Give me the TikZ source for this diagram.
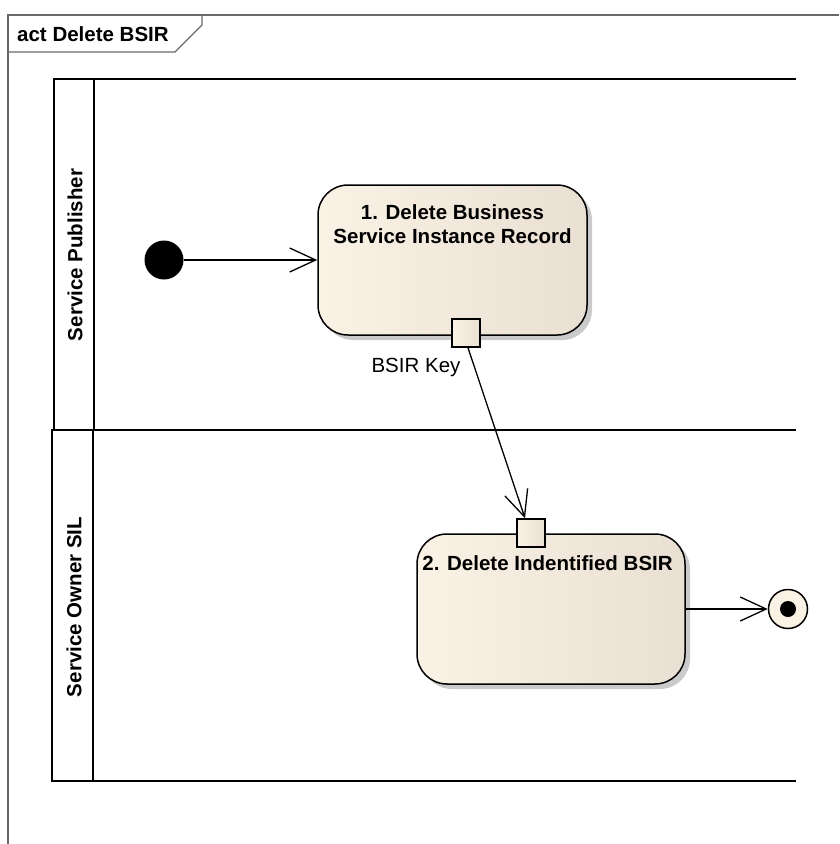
\documentclass[tikz,border=0pt]{standalone}
\usepackage{fontspec}
\setmainfont{Liberation Sans}
\usetikzlibrary{arrows.meta,shadows}
\definecolor{actleft}{RGB}{251,242,230}
\definecolor{actright}{RGB}{233,223,211}
\definecolor{framegray}{RGB}{105,105,105}

\begin{document}
\begin{tikzpicture}[x=1pt,y=-1pt,
  txt/.style={font=\fontsize{20.5}{24}\selectfont\bfseries, inner sep=0pt},
  plain/.style={font=\fontsize{20.5}{24}\selectfont, inner sep=0pt},
  lane/.style={line width=2pt, black},
  action/.style={draw=black, line width=1.5pt, rounded corners=30pt,
    left color=actleft, right color=actright, inner sep=0pt,
    drop shadow={shadow xshift=5pt, shadow yshift=-5pt, fill=black!35, opacity=0.6}},
  pinbox/.style={draw=black, line width=1.5pt, left color=actleft, right color=actright,
    minimum size=28pt, inner sep=0pt},
  flow/.style={line width=1.3pt, -{Straight Barb[length=26pt,width=24pt,line width=1.3pt]}}
]
\useasboundingbox (0,0) rectangle (839,844);

% diagram frame with its name tab
\draw[framegray, line width=1.2pt] (8,844) -- (8,15) -- (839,15);
\draw[framegray, line width=1.2pt] (8,52) -- (175,52) -- (202,25) -- (202,15);
\node[txt, anchor=base west] (title) at (17,41) {act Delete BSIR};

% swimlanes
\draw[lane] (796,79) -- (54,79) -- (54,430);
\draw[lane] (94,79) -- (94,430);
\draw[lane] (796,430) -- (52,430) -- (52,781) -- (796,781);
\draw[lane] (93,430) -- (93,781);
\node[txt, rotate=90] (lane1) at (75,255) {Service Publisher};
\node[txt, rotate=90] (lane2) at (74,607) {Service Owner SIL};

% actions
\node[action, minimum width=269pt, minimum height=150pt] (a1) at (452.5,260) {};
\node[txt, align=center, anchor=north] (a1t) at ([yshift=-20pt]a1.north) {1. Delete Business\\Service Instance Record};
\node[action, minimum width=268pt, minimum height=150pt] (a2) at (551,609) {};
\node[txt, anchor=north west] (a2t) at ([xshift=6pt,yshift=-22pt]a2.north west) {2. Delete Indentified BSIR};

% pins
\node[pinbox] (p1) at (466,333) {};
\node[plain] (pk) at (416,367) {BSIR Key};
\node[pinbox] (p2) at (531,533) {};

% initial and final nodes
\node[circle, fill=black, minimum size=39pt, inner sep=0pt] (init) at (164,260) {};
\node[circle, draw=black, line width=1.5pt, fill=actleft, minimum size=39pt, inner sep=0pt] (fin) at (788,609) {};
\node[circle, fill=black, minimum size=16pt, inner sep=0pt] (fdot) at (fin) {};

% control and object flows
\draw[flow] (init) -- (a1);
\draw[flow] ([xshift=2pt]p1.south) -- ([xshift=-6pt]p2.north);
\draw[flow] (a2) -- (fin);
\end{tikzpicture}
\end{document}
